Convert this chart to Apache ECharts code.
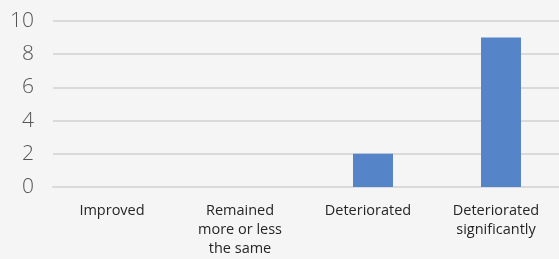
<!DOCTYPE html>
<html>
<head>
<meta charset="utf-8">
<script src="https://cdn.jsdelivr.net/npm/echarts@6/dist/echarts.min.js"></script>
<style>
  html, body { margin: 0; padding: 0; background: #f5f5f5; overflow: hidden; }
  #chart { width: 572px; height: 259px; }
</style>
</head>
<body>
<div id="chart"></div>
<script>
var categories = ['Improved', 'Remained\nmore or less\nthe same', 'Deteriorated', 'Deteriorated\nsignificantly'];
var values = [0, 0, 2, 9];
var yTicks = [0, 2, 4, 6, 8, 10];

// the plot area runs past the right edge of the window, as in the source
var chart = echarts.init(document.getElementById('chart'));
chart.setOption({
  backgroundColor: '#f5f5f5',
  animation: false,
  grid: {
    left: 53,
    right: 7,
    top: 21,
    bottom: 72
  },
  xAxis: {
    type: 'category',
    data: categories,
    axisLine: { lineStyle: { color: '#dadada', width: 2 } },
    axisTick: { show: false },
    axisLabel: {
      color: '#262626',
      fontFamily: 'Open Sans',
      fontSize: 14.5,
      lineHeight: 19,
      margin: 14,
      padding: [0, 10, 0, 0],
      interval: 0
    }
  },
  yAxis: {
    type: 'value',
    min: yTicks[0],
    max: yTicks[yTicks.length - 1],
    interval: 2,
    axisLine: { show: false },
    axisTick: { show: false },
    splitLine: { lineStyle: { color: '#dadada', width: 2 } },
    axisLabel: {
      color: '#555555',
      fontFamily: 'Open Sans',
      fontWeight: 300,
      fontSize: 21,
      margin: 19
    }
  },
  series: [{
    type: 'bar',
    data: values,
    barWidth: 40,
    itemStyle: { color: '#5585c8' }
  }]
});
</script>
</body>
</html>
